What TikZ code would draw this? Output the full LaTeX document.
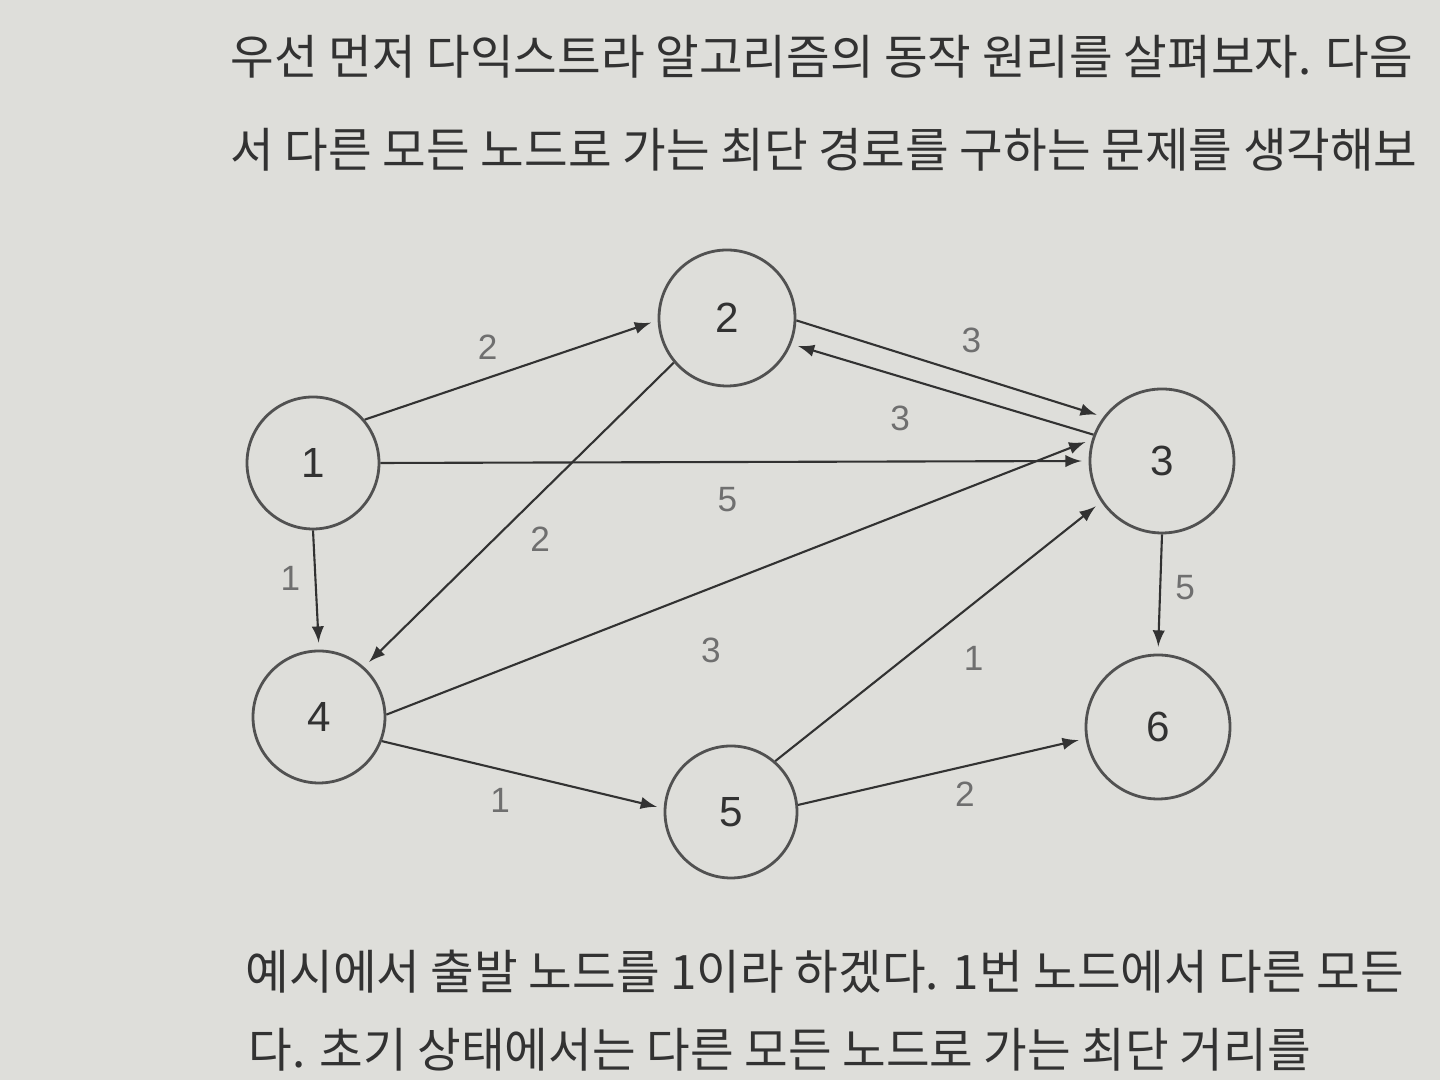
\documentclass[tikz,border=0pt]{standalone}
\usepackage{fontspec}
\setmainfont{Liberation Sans}
\newfontfamily\kofont{Noto Sans CJK KR}
\usetikzlibrary{arrows,positioning,calc}

\definecolor{paper}{RGB}{222,222,218}
\definecolor{ink}{RGB}{50,50,50}

\begin{document}
\begin{tikzpicture}[
		vtx/.style={circle, draw=ink!85, line width=0.8pt, text=ink, font=\fontsize{12}{12}\selectfont},
		edge/.style={->, >=latex, draw=ink, line width=0.6pt, shorten >=2pt},
		wt/.style={inner sep=1pt, text=ink!70, font=\fontsize{10}{10}\selectfont},
		para/.style={anchor=base west, inner sep=0pt, text=ink, font=\kofont\fontsize{13.5}{13.5}\selectfont}]
				\clip (0,0) rectangle (14.4,10.8);
				\fill[paper] (0,0) rectangle (14.4,10.8);
				
				% running text of the page
				\node[para] (top1) at (2.30,10.05) {우선 먼저 다익스트라 알고리즘의 동작 원리를 살펴보자. 다음};
				\node[para] (top2) at (2.30,9.12) {서 다른 모든 노드로 가는 최단 경로를 구하는 문제를 생각해보};
				\node[para] (bot1) at (2.45,0.90) {예시에서 출발 노드를 1이라 하겠다. 1번 노드에서 다른 모든};
				\node[para] (bot2) at (2.48,0.12) {다. 초기 상태에서는 다른 모든 노드로 가는 최단 거리를};
				
				% graph
				\node[vtx, minimum size=1.32cm] (n1) at (3.13,6.17) {1};
				\node[vtx, minimum size=1.36cm] (n2) at (7.27,7.62) {2};
				\node[vtx, minimum size=1.44cm] (n3) at (11.62,6.19) {3};
				\node[vtx, minimum size=1.32cm] (n4) at (3.19,3.63) {4};
				\node[vtx, minimum size=1.32cm] (n5) at (7.31,2.68) {5};
				\node[vtx, minimum size=1.44cm] (n6) at (11.58,3.53) {6};
				
				\draw[edge] (n1.40) -- node[wt, pos=0.42, above=4pt] {2} (n2.182);
				\draw[edge] (n1.east) -- node[wt, pos=0.49, below=6pt] {5} (n3.west);
				\draw[edge] (n1.south) -- node[wt, pos=0.4, left=3pt] {1} (n4.north);
				\draw[edge] (n2.-2) -- node[wt, pos=0.57, above=5pt] {3} (n3.143);
				\draw[edge] (n3.159) -- node[wt, pos=0.64, below=7pt] {3} (n2.-22);
				\draw[edge] (n2.220) -- node[wt, pos=0.58, right=9pt] {2} (n4.48);
				\draw[edge] (n4.2) -- node[wt, pos=0.46, below=13pt] {3} (n3.163);
				\draw[edge] (n4.-21) -- node[wt, pos=0.42, below=4pt] {1} (n5.177);
				\draw[edge] (n5.49) -- node[wt, pos=0.5, below right=3pt and 6pt] {1} (n3.214);
				\draw[edge] (n5.6) -- node[wt, pos=0.58, below=3pt] {2} (n6.189);
				\draw[edge] (n3.south) -- node[wt, pos=0.45, right=3pt] {5} (n6.north);
			\end{tikzpicture}
\end{document}
